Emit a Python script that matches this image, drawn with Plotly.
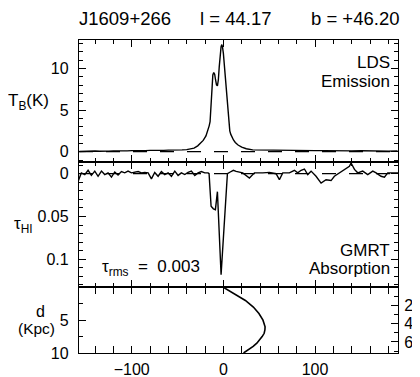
import plotly.graph_objects as go

# ---------------- data ----------------
title_source = "J1609+266"
title_l = "l = 44.17"
title_b = "b = +46.20"
tau_rms_text = "0.003"
sin_b = 0.7218  # sin(46.20 deg) for the right-hand z axis range

vel_range = [-157.5, 190.5]

# HI emission (LDS): velocity (km/s), brightness temperature (K)
em_v = [-157, -150, -145, -140, -135, -130, -125, -120, -115, -110, -105, -100, -95, -90,
        -85, -80, -75, -70, -65, -60, -55, -50, -45, -40, -36, -32, -28, -25, -22, -19,
        -17, -15.5, -14.5, -13.5, -12.5, -11.5, -10.5, -9.5, -8.5, -7.5, -6.5, -5.5,
        -4.5, -3.5, -2.5, -1.7, -1, 0, 1, 2, 3, 4, 5, 6, 7, 8, 9, 11, 13, 16, 20, 25,
        32, 40, 50, 60, 70, 80, 90, 100, 110, 120, 130, 140, 150, 160, 170, 180, 190]
em_T = [0.02, 0.06, 0.03, 0.08, 0.05, 0.1, 0.07, 0.1, 0.08, 0.12, 0.1, 0.13, 0.11, 0.15,
        0.13, 0.16, 0.14, 0.18, 0.16, 0.19, 0.18, 0.2, 0.22, 0.25, 0.3, 0.42, 0.7, 1.0, 1.35, 1.9,
        2.5, 3.1, 3.6, 5.5, 7.8, 9.2, 9.5, 9.3, 8.6, 8.0, 7.9, 8.6,
        10.2, 11.7, 12.6, 12.85, 12.6, 11.8, 10.4, 8.8, 7.4, 5.9, 4.2, 3.1, 2.5, 2.1, 1.8, 1.4, 1.1, 0.8, 0.55, 0.35,
        0.22, 0.2, 0.18, 0.15, 0.17, 0.14, 0.15, 0.12, 0.13, 0.1, 0.12, 0.1, 0.11, 0.08, 0.1, 0.07, 0.08]

# HI absorption (GMRT): velocity (km/s), optical depth
ab_v = [-158.5, -154.9, -151.2, -147.6, -144.0, -140.3, -136.7, -133.0, -129.4, -125.8,
        -122.1, -118.5, -114.9, -111.2, -107.6, -104.0, -100.3, -96.7, -93.0, -89.4,
        -85.8, -82.1, -78.5, -74.9, -71.2, -67.6, -64.0, -60.3, -56.7, -53.0,
        -49.4, -45.8, -42.1, -38.5, -34.9, -31.2, -27.6, -24.0, -20.3, -16.7,
        -15.6, -13.4, -10.9, -8.7, -6.5, -2.5, 0.0, 2.0, 4.4, 7.5, 10.9, 13.9,
        21.1, 28.4, 33.9, 43.0, 50.2, 57.5, 61.1, 64.8, 72.0, 77.5, 81.1, 84.8, 88.4,
        92.0, 95.7, 101.1, 106.6, 112.0, 117.5, 121.1, 126.6, 132.0, 137.5, 139.3,
        143.0, 146.6, 152.0, 157.5, 163.0, 166.6, 172.0, 175.7, 179.3, 183.0, 188.4, 191.0]
ab_tau = [0.009, -0.001, 0.001, -0.004, 0.002, -0.003, 0.003, -0.003, 0.001, -0.001,
          0.004, -0.002, 0.0015, -0.0025, -0.001, -0.003, -0.001, -0.0015, -0.0025, -0.001,
          -0.0015, -0.001, 0.006, -0.0015, 0.003, -0.0025, 0.001, -0.001, 0.003, -0.003,
          0.002, -0.001, 0.001, -0.0015, -0.003, 0.002, -0.001, -0.0025, -0.001, -0.001,
          0.0, 0.038, 0.041, 0.042, 0.021, 0.118, 0.075, 0.04, 0.0, -0.002, -0.004, -0.0027,
          -0.001, 0.005, -0.001, -0.001, -0.0015, 0.0, 0.007, -0.001, -0.001, -0.004, -0.001, -0.004, -0.0055,
          0.001, -0.003, 0.003, 0.011, 0.007, 0.008, 0.003, -0.001, -0.005, -0.0086, -0.0125,
          -0.005, -0.001, -0.003, 0.001, -0.003, -0.001, 0.003, 0.004, -0.001, -0.001, -0.001, -0.001]

# Kinematic distance curve: distance (kpc) vs LSR velocity (km/s)
dist_d = [0, 1, 2, 3, 4, 5, 5.5, 6, 6.5, 7, 7.5, 8, 8.5, 9, 9.5, 10]
dist_v = [0, 12.5, 24, 32.7, 38.8, 43.2, 44.7, 45.5, 45.3, 44.5, 42.3, 39.5, 36.5, 32.5, 27.5, 22]

# ---------------- layout geometry ----------------
# the page body has an 8px margin, so the figure is drawn from (8, 8)
OFF = 8
W, H = 420 - OFF, 377 - OFF
L, R, T, B = 79 - OFF, 22, 40 - OFF, 24
PW, PH = W - L - R, H - T - B
LW = 1.3


def px(x):
    """page pixel x -> paper coordinate"""
    return (x - OFF - L) / PW


def py(y):
    """page pixel y -> paper coordinate"""
    return (OFF + H - B - y) / PH


ov = LW / 2
dom_bot = [0, py(287 + ov / 2)]
dom_mid = [py(287 - ov / 2), py(162 + ov / 2)]
dom_top = [py(162 - ov / 2), 1]

FONT = "Liberation Sans, Arial, sans-serif"
BLACK = "black"

fig = go.Figure()
fig.add_trace(go.Scatter(x=em_v, y=em_T, mode="lines", xaxis="x3", yaxis="y3",
                         line=dict(color=BLACK, width=1.4), showlegend=False))
fig.add_trace(go.Scatter(x=ab_v, y=ab_tau, mode="lines", xaxis="x2", yaxis="y2",
                         line=dict(color=BLACK, width=1.4), showlegend=False))
fig.add_trace(go.Scatter(x=dist_v, y=dist_d, mode="lines", xaxis="x", yaxis="y",
                         line=dict(color=BLACK, width=1.6), showlegend=False))
fig.add_trace(go.Scatter(x=[None], y=[None], xaxis="x", yaxis="y4", showlegend=False))

tickfont = dict(family=FONT, size=16, color=BLACK)


def minor(d):
    return dict(dtick=d, tick0=0, ticks="inside", ticklen=3.5, tickwidth=1.1,
                tickcolor=BLACK, showgrid=False)


xcommon = dict(range=vel_range, showgrid=False, zeroline=False, showline=True,
               linecolor=BLACK, linewidth=LW, mirror="allticks", ticks="inside",
               ticklen=7, tickwidth=1.2, tickcolor=BLACK, tickmode="linear",
               tick0=0, dtick=100, minor=minor(20), tickfont=tickfont, automargin=False)

ycommon = dict(showgrid=False, zeroline=False, showline=True, linecolor=BLACK,
               linewidth=LW, ticks="inside", ticklen=7, tickwidth=1.2, tickcolor=BLACK,
               tickfont=tickfont, ticklabelstandoff=6, tickmode="linear", tick0=0,
               automargin=False)

fig.update_layout(
    template="none",
    width=W, height=H,
    margin=dict(l=L, r=R, t=T, b=B, pad=0, autoexpand=False),
    paper_bgcolor="white", plot_bgcolor="white",
    showlegend=False,
    xaxis=dict(**xcommon, anchor="y", ticklabelstandoff=2),
    xaxis2=dict(**xcommon, anchor="y2", matches="x", showticklabels=False),
    xaxis3=dict(**xcommon, anchor="y3", matches="x", showticklabels=False),
    yaxis=dict(**ycommon, domain=dom_bot, range=[10, 0], anchor="x", dtick=5,
               labelalias={"0": " "}, mirror=False, minor=minor(2.5)),
    yaxis4=dict(showgrid=False, zeroline=False, showline=True, linecolor=BLACK,
                linewidth=LW, ticks="inside", ticklen=7, tickwidth=1.2, tickcolor=BLACK,
                tickfont=tickfont, ticklabelstandoff=2, automargin=False,
                overlaying="y", side="right", anchor="x", range=[10 * sin_b, 0],
                tickmode="linear", tick0=0, dtick=2, labelalias={"0": " "},
                minor=minor(1)),
    yaxis2=dict(**ycommon, domain=dom_mid, range=[0.132, -0.0133], anchor="x2",
                mirror="allticks", dtick=0.05, minor=minor(0.01)),
    yaxis3=dict(**ycommon, domain=dom_top, range=[-1.2, 13.4], anchor="x3",
                mirror="allticks", dtick=5, minor=minor(1)),
)

# dashed zero lines (under spectra)
for yref in ("y3", "y2"):
    fig.add_shape(type="line", xref=yref.replace("y", "x") + " domain", yref=yref,
                  x0=0, x1=1, y0=0, y1=0, layer="below",
                  line=dict(color=BLACK, width=1.3, dash="14px,13px"))


def ann(text, x, y, xanchor="center", yanchor="middle", size=17, **kw):
    fig.add_annotation(text=text, x=px(x), y=py(y), xref="paper", yref="paper",
                       xanchor=xanchor, yanchor=yanchor, showarrow=False,
                       borderpad=0,
                       font=dict(family=FONT, size=size, color=BLACK), **kw)


# title
ann(title_source, 78, 19, xanchor="left", size=18.5)
ann(title_l, 199, 19, xanchor="left", size=18.5)
ann(title_b, 400, 19, xanchor="right", size=18.5)

# panel labels
ann("LDS", 391, 62, xanchor="right")
ann("Emission", 391, 81, xanchor="right")
ann("GMRT", 391, 250, xanchor="right")
ann("Absorption", 391, 268, xanchor="right")
ann("τ<sub>rms</sub>  =  " + tau_rms_text, 101, 268, xanchor="left")

# axis titles
ann("T<sub>B</sub>(K)", 29, 102)
ann("τ<sub>HI</sub>", 23, 225)
ann("d", 40, 311, size=16)
ann("(Kpc)", 36, 328, size=15.5)

fig.write_html("out.html")
